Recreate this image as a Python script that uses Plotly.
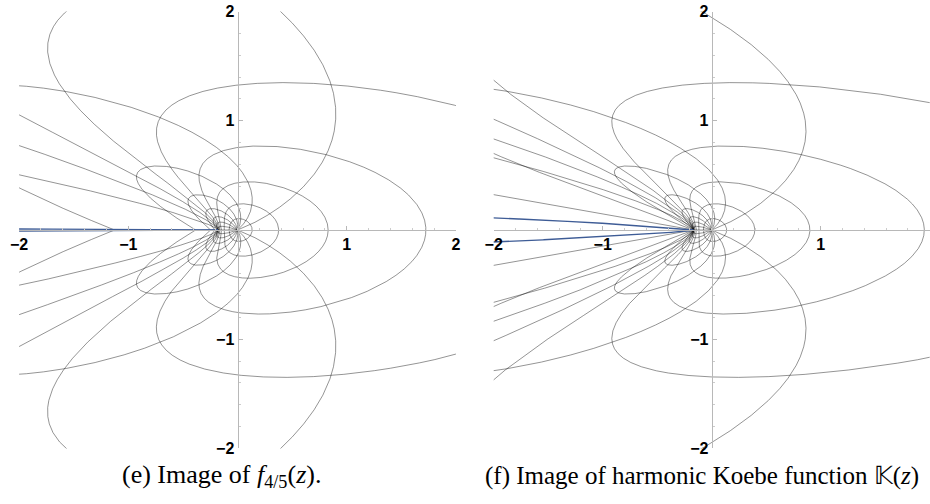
import numpy as np
import plotly.graph_objects as go

# ---- parameters of the pictures ----
ALPHA = 0.8                      # f_{4/5}: dilatation omega(z) = ALPHA*z
RADII = [0.1, 0.2, 0.3, 0.4, 0.5, 0.6, 0.7, 0.8, 0.9]            # mesh circles |z| = r
ANGLES_DEG = [20, 40, 60, 80, 100, 120, 140, 160, 180,
              200, 220, 240, 260, 280, 300, 320, 340]            # mesh rays arg z = t
R_EDGE_E = 0.999                 # outer boundary of the parameter region (blue), panel e
R_EDGE_F = 0.9999                # outer boundary of the parameter region (blue), panel f
TICK_VALS = [-2, -1, 1, 2]
TICK_TEXT = ["<b>\u22122</b>", "<b>\u22121</b>", "<b>1</b>", "<b>2</b>"]
CAPTION_E = "(e) Image of <i>f</i><sub>4/5</sub>(<i>z</i>)."
CAPTION_F = "(f) Image of harmonic Koebe function \U0001D542(<i>z</i>)"

W, H = 930, 504
GRAY = "rgba(0,0,0,0.42)"
BLUE = "rgb(62,92,150)"


def harmonic_koebe(z):
    d = (1 - z) ** 3
    h = (z - z ** 2 / 2 + z ** 3 / 6) / d
    g = (z ** 2 / 2 + z ** 3 / 6) / d
    return h + np.conj(g)


def f_alpha(z, a):
    b = 1 - a
    A = 2 / b
    B = -(1 + 2 * a / b) / b
    C = (a / b + 2 * (a / b) ** 2) / b
    D = -a ** 2 * (1 + a) / b ** 3

    def G(u):
        return -A / (2 * u ** 2) - B / u + C * np.log(u) + (D / a) * np.log(b + a * u)

    u = 1 - z
    h = -(G(u) - G(1 + 0j))
    k = z / (1 - z) ** 2
    g = h - k
    return h + np.conj(g)


def clean(w, lim=60.0):
    w = np.array(w, dtype=complex)
    w[~np.isfinite(w)] = np.nan
    w[np.abs(w) > lim] = np.nan
    return w.real, w.imag


s = np.linspace(-1, 1, 12001)
theta_circ = np.pi * (0.2 * s + 0.8 * s ** 5)

fig = go.Figure()

panels = [
    ("x", "y", lambda z: f_alpha(z, ALPHA), R_EDGE_E),
    ("x2", "y2", harmonic_koebe, R_EDGE_F),
]

for xa, ya, fn, redge in panels:
    r_ray = redge * np.linspace(0, 1, 4000)
    for r in RADII:
        xs, ys = clean(fn(r * np.exp(1j * theta_circ)))
        fig.add_trace(go.Scatter(x=xs, y=ys, mode="lines", xaxis=xa, yaxis=ya,
                                 line=dict(color=GRAY, width=1), hoverinfo="skip",
                                 showlegend=False))
    for tdeg in ANGLES_DEG:
        t = np.deg2rad(tdeg)
        xs, ys = clean(fn(r_ray * np.exp(1j * t)))
        fig.add_trace(go.Scatter(x=xs, y=ys, mode="lines", xaxis=xa, yaxis=ya,
                                 line=dict(color=GRAY, width=1), hoverinfo="skip",
                                 showlegend=False))
    xs, ys = clean(fn(redge * np.exp(1j * theta_circ)))
    fig.add_trace(go.Scatter(x=xs, y=ys, mode="lines", xaxis=xa, yaxis=ya,
                             line=dict(color=BLUE, width=1.4), hoverinfo="skip",
                             showlegend=False))

# pixel geometry of the two panels
y_top, y_bot = 11.6, 448.4
ydom = [(H - y_bot) / H, (H - y_top) / H]
xdom_e = [19.1 / W, 455.9 / W]
xdom_f = [493.7 / W, 929.7 / W]

tickfont = dict(family="Liberation Sans, Arial, sans-serif", size=16, color="black", weight="bold")
axis_common = dict(range=[-2, 2], showgrid=False, zeroline=False, showline=True,
                   linecolor="#b8b8b8", linewidth=1, ticks="inside", ticklen=4,
                   tickcolor="#b8b8b8", tickvals=TICK_VALS, ticktext=TICK_TEXT,
                   tickfont=tickfont, anchor="free", automargin=False,
                   minor=dict(dtick=0.2, tick0=0, ticklen=2, tickcolor="#cccccc", ticks="inside"))

ymid = (ydom[0] + ydom[1]) / 2
cap_font = dict(family="Liberation Serif, Times New Roman, serif", size=25, color="black")
fig.update_layout(
    template="none",
    width=W, height=H, margin=dict(l=0, r=0, t=0, b=0, pad=0),
    paper_bgcolor="white", plot_bgcolor="white",
    xaxis=dict(domain=xdom_e, position=ymid, **axis_common),
    yaxis=dict(domain=ydom, position=(xdom_e[0] + xdom_e[1]) / 2, **axis_common),
    xaxis2=dict(domain=xdom_f, position=ymid, **axis_common),
    yaxis2=dict(domain=ydom, position=(xdom_f[0] + xdom_f[1]) / 2, **axis_common),
    annotations=[
        dict(text=CAPTION_E, x=221 / W, y=1 - 476 / H, xref="paper", yref="paper",
             xanchor="center", yanchor="middle", showarrow=False,
             font=dict(cap_font, size=26)),
        dict(text=CAPTION_F, x=483 / W, y=1 - 476 / H, xref="paper", yref="paper",
             xanchor="left", yanchor="middle", showarrow=False, font=cap_font),
    ],
)

fig.write_html("out.html", config={"displayModeBar": False},
               post_script="document.body.style.margin='0';document.body.style.padding='0';"
                           "document.body.style.overflow='hidden';")
